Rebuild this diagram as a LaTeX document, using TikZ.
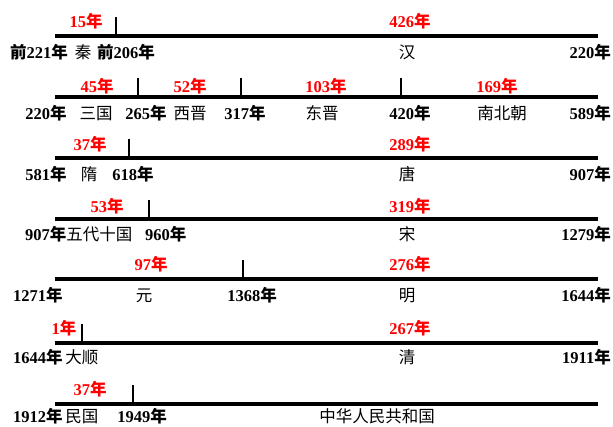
\documentclass[tikz,border=0pt]{standalone}
\usepackage{fontspec}
\setmainfont{Liberation Serif}
\newfontfamily\cjk{Noto Sans CJK SC}
\newcommand\nian{{\cjk\bfseries 年}}
\newcommand\yr[1]{#1\nian}
\newcommand\dyn[1]{{\cjk\mdseries #1}}
\begin{document}
\begin{tikzpicture}[x=1pt,y=-1pt,
  lab/.style={font=\fontsize{16.5}{18}\selectfont\bfseries, inner sep=0pt, anchor=base},
  redlab/.style={lab, text=red},
  tline/.style={line width=4pt},
  tick/.style={line width=2.5pt}]
\useasboundingbox (0,0) rectangle (613,426);
% ---- lines ----
\foreach \n/\y in {1/36,2/97,3/158,4/219,5/279,6/343,7/404}{
  \coordinate (L\n) at (55,\y);
  \coordinate (R\n) at (598,\y);
  \draw[tline] (L\n) -- (R\n);
}
% ---- ticks ----
\foreach \n/\x/\y in {a/116/36,b/138/97,c/241/97,d/401/97,e/129/158,f/149/219,g/243/279,h/82/343,i/133/404}{
  \coordinate (T\n) at (\x,\y);
  \draw[tick] (T\n) -- ++(0,-19);
}
% ---- row 1 ----
\node[redlab] (r1a) at (86,27) {\yr{15}};
\node[redlab] (r1b) at (410,27) {\yr{426}};
\node[lab,anchor=base west] (b1a) at (10,58) {{\cjk\bfseries 前}\yr{221}};
\node[lab] (b1b) at (83,58) {\dyn{秦}};
\node[lab,anchor=base west] (b1c) at (97,58) {{\cjk\bfseries 前}\yr{206}};
\node[lab] (b1d) at (407,58) {\dyn{汉}};
\node[lab,anchor=base east] (b1e) at (611,58) {\yr{220}};
% ---- row 2 ----
\node[redlab] (r2a) at (97,92) {\yr{45}};
\node[redlab] (r2b) at (190,92) {\yr{52}};
\node[redlab] (r2c) at (326,92) {\yr{103}};
\node[redlab] (r2d) at (497,92) {\yr{169}};
\node[lab] (b2a) at (46,119) {\yr{220}};
\node[lab] (b2b) at (96,119) {\dyn{三国}};
\node[lab] (b2c) at (146,119) {\yr{265}};
\node[lab] (b2d) at (190,119) {\dyn{西晋}};
\node[lab] (b2e) at (245,119) {\yr{317}};
\node[lab] (b2f) at (322,119) {\dyn{东晋}};
\node[lab] (b2g) at (410,119) {\yr{420}};
\node[lab] (b2h) at (502,119) {\dyn{南北朝}};
\node[lab,anchor=base east] (b2i) at (611,119) {\yr{589}};
% ---- row 3 ----
\node[redlab] (r3a) at (90,150) {\yr{37}};
\node[redlab] (r3b) at (410,150) {\yr{289}};
\node[lab] (b3a) at (46,180) {\yr{581}};
\node[lab] (b3b) at (89,180) {\dyn{隋}};
\node[lab] (b3c) at (133,180) {\yr{618}};
\node[lab] (b3d) at (407,180) {\dyn{唐}};
\node[lab,anchor=base east] (b3e) at (611,180) {\yr{907}};
% ---- row 4 ----
\node[redlab] (r4a) at (107,212) {\yr{53}};
\node[redlab] (r4b) at (410,212) {\yr{319}};
\node[lab,anchor=base west] (b4a) at (25,240) {\yr{907}\dyn{五代十国}};
\node[lab,anchor=base west] (b4b) at (145,240) {\yr{960}};
\node[lab] (b4c) at (407,240) {\dyn{宋}};
\node[lab,anchor=base east] (b4d) at (611,240) {\yr{1279}};
% ---- row 5 ----
\node[redlab] (r5a) at (151,270) {\yr{97}};
\node[redlab] (r5b) at (410,270) {\yr{276}};
\node[lab,anchor=base west] (b5a) at (13,301) {\yr{1271}};
\node[lab] (b5b) at (144,301) {\dyn{元}};
\node[lab] (b5c) at (252,301) {\yr{1368}};
\node[lab] (b5d) at (407,301) {\dyn{明}};
\node[lab,anchor=base east] (b5e) at (611,301) {\yr{1644}};
% ---- row 6 ----
\node[redlab] (r6a) at (64,334) {\yr{1}};
\node[redlab] (r6b) at (410,334) {\yr{267}};
\node[lab,anchor=base west] (b6a) at (13,363) {\yr{1644}\,\dyn{大顺}};
\node[lab] (b6b) at (407,363) {\dyn{清}};
\node[lab,anchor=base east] (b6c) at (611,363) {\yr{1911}};
% ---- row 7 ----
\node[redlab] (r7a) at (90,395) {\yr{37}};
\node[lab,anchor=base west] (b7a) at (13,422) {\yr{1912}\,\dyn{民国}};
\node[lab] (b7b) at (142,422) {\yr{1949}};
\node[lab] (b7c) at (377,422) {\dyn{中华人民共和国}};
\end{tikzpicture}
\end{document}
